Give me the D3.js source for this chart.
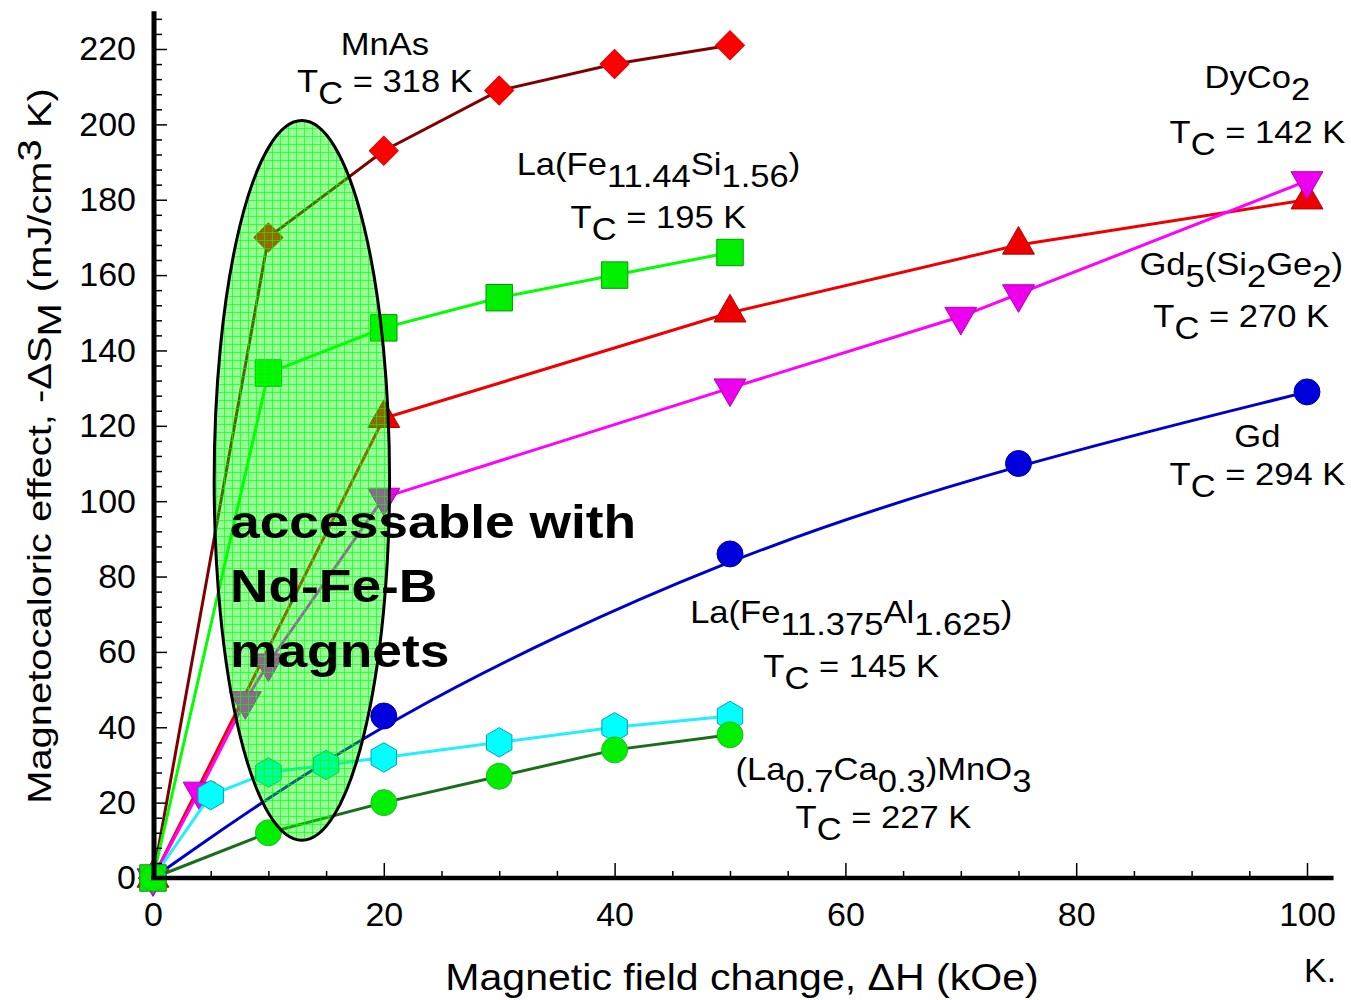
<!DOCTYPE html>
<html>
<head>
<meta charset="utf-8">
<script src="https://cdn.jsdelivr.net/npm/d3@7"></script>
<style>
  body { margin: 0; background: #fff; }
  text { font-family: "Liberation Sans", Arial, sans-serif; fill: #000; }
</style>
</head>
<body>
<svg id="chart"></svg>
<script>
// magnetic field change (kOe) and -dS_M (mJ/cm3 K) for each material
const mnasH   = [0, 10, 20, 30, 40, 50];
const mnasS   = [0, 170, 193, 209, 216, 221];
const lafesiH = [0, 10, 20, 30, 40, 50];
const lafesiS = [0, 134, 146, 154, 160, 166];
const dycoH   = [0, 20, 50, 75, 100];
const dycoS   = [0, 122, 150, 168, 180];
const gdsigeH = [0, 4, 8, 10, 20, 50, 70, 75, 100];
const gdsigeS = [0, 23, 47, 57, 101, 130, 149, 155, 185];
const gdH     = [0, 20, 50, 75, 100];
const gdS     = [0, 43, 86, 110, 129];
const lcmoH   = [0, 5, 10, 15, 20, 30, 40, 50];
const lcmoS   = [0, 22, 28, 30, 32, 36, 40, 43];
const lafealH = [0, 10, 20, 30, 40, 50];
const lafealS = [0, 12, 20, 27, 34, 38];

const xTicks = [0, 20, 40, 60, 80, 100];
const yTicks = [0, 20, 40, 60, 80, 100, 120, 140, 160, 180, 200, 220];

// material labels: _{..} subscript, ^{..} superscript
const labelNames = ["MnAs", "La(Fe_{11.44}Si_{1.56})", "DyCo_{2}", "Gd_{5}(Si_{2}Ge_{2})",
                    "Gd", "La(Fe_{11.375}Al_{1.625})", "(La_{0.7}Ca_{0.3})MnO_{3}"];
const labelTc = [318, 195, 142, 270, 294, 145, 227];

const width = 1351, height = 1000;
const svg = d3.select("#chart").attr("width", width).attr("height", height);

const x = d3.scaleLinear().domain([0, 100]).range([153, 1307]);
const y = d3.scaleLinear().domain([0, 220]).range([878, 49]);

// ellipse pattern (green grid)
const defs = svg.append("defs");
const pat = defs.append("pattern")
    .attr("id", "grid")
    .attr("patternUnits", "userSpaceOnUse")
    .attr("width", 8).attr("height", 8);
pat.append("rect").attr("width", 8).attr("height", 8).attr("fill", "rgba(0,255,0,0.42)");
pat.append("path").attr("d", "M0 0.5H8M0.5 0V8")
    .attr("stroke", "#00ff00").attr("stroke-opacity", 0.6).attr("stroke-width", 1);

// custom marker shapes
const hexagon = {
  draw(ctx, size) {
    const r = Math.sqrt(size / (1.5 * Math.sqrt(3)));
    for (let i = 0; i < 6; i++) {
      const a = Math.PI / 3 * i - Math.PI / 2;
      if (i === 0) ctx.moveTo(r * Math.cos(a), r * Math.sin(a));
      else ctx.lineTo(r * Math.cos(a), r * Math.sin(a));
    }
    ctx.closePath();
  }
};

const series = [
  {h: gdH, s: gdS, line: "#0000cc", fill: "#0000dd", stroke: "#0000a0", type: d3.symbolCircle, size: 530, rot: 0, curve: d3.curveBasis},
  {h: dycoH, s: dycoS, line: "#ee0000", fill: "#ee0000", stroke: "#b00000", type: d3.symbolTriangle, size: 440, rot: 0, curve: d3.curveLinear},
  {h: gdsigeH, s: gdsigeS, line: "#ff00ff", fill: "#ee00ee", stroke: "#b000b0", type: d3.symbolTriangle, size: 440, rot: 180, curve: d3.curveLinear},
  {h: mnasH, s: mnasS, line: "#800000", fill: "#ff0000", stroke: "#dd0000", type: d3.symbolSquare, size: 420, rot: 45, curve: d3.curveLinear},
  {h: lcmoH, s: lcmoS, line: "#22eeff", fill: "#00ffff", stroke: "#00a0b0", type: hexagon, size: 560, rot: 0, curve: d3.curveLinear},
  {h: lafesiH, s: lafesiS, line: "#00ff00", fill: "#00ee00", stroke: "#009900", type: d3.symbolSquare, size: 700, rot: 0, curve: d3.curveLinear},
  {h: lafealH, s: lafealS, line: "#1a6e1a", fill: "#00ee00", stroke: "#22bb22", type: d3.symbolCircle, size: 530, rot: 0, curve: d3.curveLinear}
];

const plot = svg.append("g");

series.forEach(sr => {
  const pts = sr.h.map((h, i) => [h, sr.s[i]]);
  const line = d3.line().x(d => x(d[0])).y(d => y(d[1])).curve(sr.curve);
  plot.append("path")
      .datum(pts)
      .attr("d", line)
      .attr("fill", "none")
      .attr("stroke", sr.line)
      .attr("stroke-width", 3);
  plot.selectAll(null)
    .data(pts)
    .join("path")
      .attr("d", d3.symbol().type(sr.type).size(sr.size))
      .attr("transform", d => `translate(${x(d[0])},${y(d[1])}) rotate(${sr.rot})`)
      .attr("fill", sr.fill)
      .attr("stroke", sr.stroke)
      .attr("stroke-width", 1);
});

// axes
const ax = svg.append("g");
ax.append("line")
    .attr("x1", x(0) - 2).attr("x2", x(102.3))
    .attr("y1", y(0)).attr("y2", y(0))
    .attr("stroke", "#000").attr("stroke-width", 4.5);
ax.append("line")
    .attr("x1", x(0) + 1).attr("x2", x(0) + 1)
    .attr("y1", y(0) + 2).attr("y2", y(230))
    .attr("stroke", "#000").attr("stroke-width", 5);

const xMinor = d3.range(5, 101, 5).filter(v => v % 20 !== 0);
const yMinor = d3.range(4, 229, 4).filter(v => v % 20 !== 0);

function styleAxis(g) {
  g.select(".domain").remove();
  g.selectAll(".tick line").attr("stroke", "#000").attr("stroke-width", 1.5);
  g.selectAll(".tick text").attr("font-size", 34).attr("fill", "#000")
    .style("font-family", '"Liberation Sans", Arial, sans-serif');
}

svg.append("g")
    .attr("transform", `translate(0,${y(0)})`)
    .call(d3.axisBottom(x).tickValues(xTicks).tickSizeInner(-15).tickSizeOuter(0).tickPadding(24))
    .call(styleAxis);
svg.append("g")
    .attr("transform", `translate(0,${y(0)})`)
    .call(d3.axisBottom(x).tickValues(xMinor).tickSizeInner(-7).tickSizeOuter(0).tickFormat(""))
    .call(styleAxis);
svg.append("g")
    .attr("transform", `translate(${x(0) + 1},0)`)
    .call(d3.axisLeft(y).tickValues(yTicks).tickSizeInner(-13).tickSizeOuter(0).tickPadding(18))
    .call(styleAxis);
svg.append("g")
    .attr("transform", `translate(${x(0) + 1},0)`)
    .call(d3.axisLeft(y).tickValues(yMinor).tickSizeInner(-8).tickSizeOuter(0).tickFormat(""))
    .call(styleAxis);

// rich text helper for sub/superscripts
function richText(sel, str, shift) {
  const parts = [];
  const re = /([_^])\{([^}]*)\}|([^_^]+)/g;
  let m;
  while ((m = re.exec(str)) !== null) {
    if (m[3]) parts.push([m[3], 0]);
    else parts.push([m[2], m[1] === "_" ? shift : -shift]);
  }
  let prev = 0;
  parts.forEach(p => {
    sel.append("tspan").attr("dy", p[1] - prev).text(p[0]);
    prev = p[1];
  });
  if (prev !== 0) sel.append("tspan").attr("dy", -prev).text("");
}

// axis titles (the original lettering is a bit wider than Liberation Sans)
const yTitle = svg.append("text")
    .attr("transform", `translate(51,446) rotate(-90) scale(1.21,1)`)
    .attr("text-anchor", "middle")
    .attr("font-size", 33);
richText(yTitle, "Magnetocaloric effect, -\u0394S_{M} (mJ/cm^{3} K)", 10);

svg.append("text")
    .attr("transform", "translate(742,990) scale(1.11,1)")
    .attr("text-anchor", "middle")
    .attr("font-size", 37)
    .text("Magnetic field change, \u0394H (kOe)");

svg.append("text")
    .attr("x", 1304).attr("y", 982)
    .attr("font-size", 34)
    .text("K.");

// Nd-Fe-B accessible region
const ellCx = 12.9, ellCy = 105.5, ellRx = 7.6, ellRy = 95.5;
svg.append("ellipse")
    .attr("cx", x(ellCx)).attr("cy", y(ellCy))
    .attr("rx", x(ellRx) - x(0)).attr("ry", y(0) - y(ellRy))
    .attr("fill", "url(#grid)")
    .attr("stroke", "#000")
    .attr("stroke-width", 3);

const noteLines = ["accessable with", "Nd-Fe-B", "magnets"];
const noteY = [90.2, 73.2, 56];
svg.selectAll(null)
  .data(noteLines)
  .join("text")
    .attr("transform", (d, i) => `translate(${x(6.67)},${y(noteY[i])}) scale(1.16,1)`)
    .attr("font-size", 46)
    .attr("font-weight", "bold")
    .text(d => d);

// material annotations (anchor in data coordinates)
const labelX  = [20.1, 43.8, 95.7, 94.3, 95.7, 60.5, 63.3];
const labelY1 = [218.4, 186.6, 209.7, 160, 114.4, 67.7, 26];
const labelY2 = [208.6, 172.5, 195.1, 146.2, 104.3, 53.3, 13.3];

labelNames.forEach((name, i) => {
  const t1 = svg.append("text")
      .attr("transform", `translate(${x(labelX[i])},${y(labelY1[i])}) scale(1.08,1)`)
      .attr("text-anchor", "middle")
      .attr("font-size", 32);
  richText(t1, name, 12);
  const t2 = svg.append("text")
      .attr("transform", `translate(${x(labelX[i])},${y(labelY2[i])}) scale(1.08,1)`)
      .attr("text-anchor", "middle")
      .attr("font-size", 32);
  richText(t2, `T_{C} = ${labelTc[i]} K`, 12);
});
</script>
</body>
</html>
